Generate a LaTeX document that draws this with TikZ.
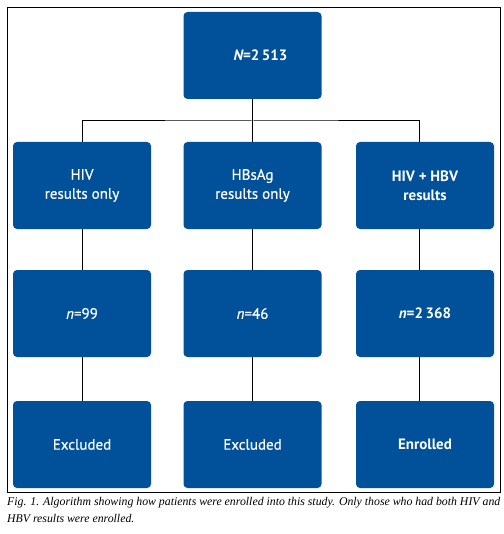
\documentclass[tikz,border=0pt]{standalone}
\usepackage{fontspec}
\setmainfont{Liberation Serif}
\setsansfont{PT Sans}
\newfontfamily\medsans[UprightFeatures={FakeBold=0.6}, ItalicFeatures={FakeBold=0.6}]{PT Sans}
\usetikzlibrary{positioning}
\definecolor{boxblue}{RGB}{0,81,153}

\begin{document}
\begin{tikzpicture}[x=1pt, y=-1pt,
    box/.style={fill=boxblue, rounded corners=4pt, minimum width=138pt, minimum height=87pt,
        inner sep=0pt, align=center, text=white, font=\medsans\fontsize{15}{19}\selectfont},
    boldbox/.style={box, font=\sffamily\bfseries\fontsize{15}{19}\selectfont},
    link/.style={draw=black, line width=1pt}]
    \useasboundingbox (0,0) rectangle (503,534);

    % Frame round the chart
    \draw[line width=1pt] (7.5,7.5) rectangle (500,492);

    % Total
    \node[boldbox] (total) at (252.5,55.5) {\hspace{16pt}{\itshape N}=2\,513};

    % Results available
    \node[box] (hiv) at (82,185.5) {HIV\\results only};
    \node[box] (hbs) at (252.5,185.5) {HBsAg\\results only};
    \node[boldbox] (both) at (425,185.5) {HIV + HBV\\results};

    % Counts
    \node[box] (nhiv) at (82,313.5) {{\itshape n}=99};
    \node[box] (nhbs) at (252.5,313.5) {{\itshape n}=46};
    \node[boldbox] (nboth) at (425,313.5) {{\itshape n}=2\,368};

    % Outcome
    \node[box] (xhiv) at (82,444.5) {Excluded};
    \node[box] (xhbs) at (252.5,444.5) {Excluded};
    \node[boldbox] (enrol) at (425,444.5) {Enrolled};

    % Split below the total
    \coordinate (split) at (252.5,121);
    \draw[link] (total.south) -- (split);
    \draw[link] (hiv.north) |- (split) -| ([xshift=-6pt]both.north);
    \draw[link] (split) -- (hbs.north);

    % Columns
    \foreach \a/\b/\s in {hiv/nhiv/0, nhiv/xhiv/0, hbs/nhbs/0, nhbs/xhbs/0, both/nboth/-6, nboth/enrol/-6} {
        \draw[link] ([xshift=\s pt]\a.south) -- ([xshift=\s pt]\b.north);
    }

    % Caption
    \node[anchor=north west, inner sep=0pt, align=left, font=\itshape\fontsize{11.8}{17}\selectfont] (caption) at (7,497)
        {Fig. 1. Algorithm showing how patients were enrolled into this study. Only those who had both HIV and\\HBV results were enrolled.};
\end{tikzpicture}
\end{document}
